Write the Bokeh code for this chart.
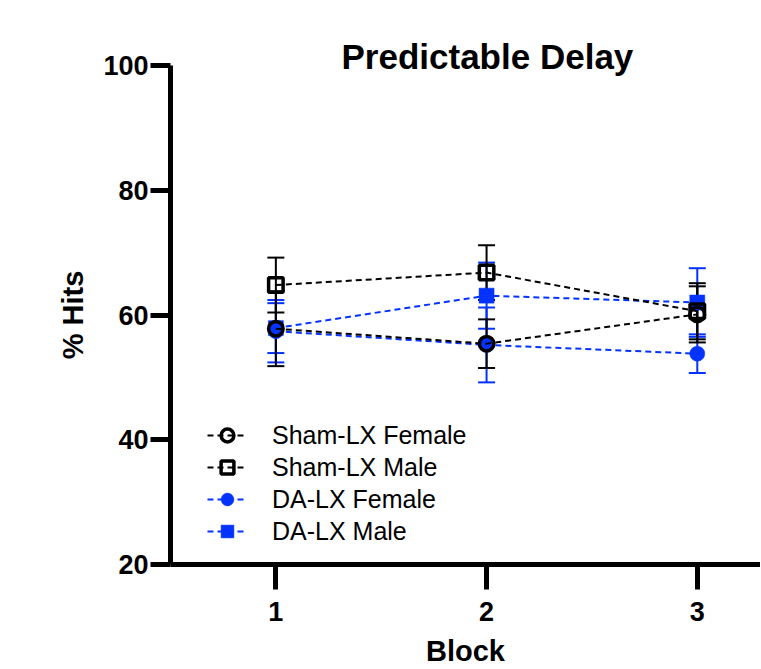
from bokeh.plotting import figure
from bokeh.models import (ColumnDataSource, Whisker, TeeHead, Legend, LegendItem,
                          Title, FixedTicker, Range1d)
from bokeh.embed import file_html
from bokeh.resources import INLINE

# ---- data ----
blocks = [1, 2, 3]
series_names = ["Sham-LX Female", "Sham-LX Male", "DA-LX Female", "DA-LX Male"]
sham_female = [57.8, 55.4, 60.1]
sham_female_sem = [6.0, 3.9, 4.5]
sham_male = [64.8, 66.8, 60.6]
sham_male_sem = [4.4, 4.4, 4.5]
da_female = [57.4, 55.2, 53.8]
da_female_sem = [5.0, 6.0, 3.1]
da_male = [57.9, 63.1, 62.0]
da_male_sem = [4.0, 5.3, 5.5]
y_ticks = [20, 40, 60, 80, 100]
x_ticks = [1, 2, 3]

BLUE = "#0433FF"
FONT = "Liberation Sans"

p = figure(width=760, height=669, output_backend="svg", toolbar_location=None,
           x_range=Range1d(0.5, 3.3), y_range=Range1d(20, 100),
           min_border_left=170, min_border_right=0, min_border_top=65,
           min_border_bottom=105)
p.outline_line_color = None
p.xgrid.visible = False
p.ygrid.visible = False
p.background_fill_color = "white"

def make_src(mean, sem):
    return ColumnDataSource(dict(x=blocks, y=mean,
                                 upper=[m + s for m, s in zip(mean, sem)],
                                 lower=[m - s for m, s in zip(mean, sem)]))

specs = [
    (da_female, da_female_sem, BLUE, "circle", True),
    (da_male, da_male_sem, BLUE, "square", True),
    (sham_male, sham_male_sem, "black", "square", False),
    (sham_female, sham_female_sem, "black", "circle", False),
]
renderers = {}
for (mean, sem, col, mk, filled), key in zip(specs, ["daf", "dam", "shm", "shf"]):
    src = make_src(mean, sem)
    w = Whisker(source=src, base="x", upper="upper", lower="lower",
                line_color=col, line_width=2,
                upper_head=TeeHead(size=17, line_color=col, line_width=2),
                lower_head=TeeHead(size=17, line_color=col, line_width=2))
    p.add_layout(w)
    ln = p.line("x", "y", source=src, line_color=col, line_width=2, line_dash="6 4")
    if filled:
        sc = p.scatter("x", "y", source=src, marker=mk, size=15,
                       fill_color=col, line_color=col, line_width=0.5)
    else:
        sc = p.scatter("x", "y", source=src, marker=mk, size=14.5,
                       fill_color=None, line_color=col, line_width=3.5)
    renderers[key] = [ln, sc]

legend = Legend(items=[
    LegendItem(label=series_names[0], renderers=renderers["shf"]),
    LegendItem(label=series_names[1], renderers=renderers["shm"]),
    LegendItem(label=series_names[2], renderers=renderers["daf"]),
    LegendItem(label=series_names[3], renderers=renderers["dam"]),
], location=(37, 17), padding=0, margin=0, spacing=0,
   label_height=32, glyph_height=32, glyph_width=40, label_standoff=25,
   label_text_font=FONT, label_text_font_size="25px", label_text_color="black",
   border_line_color=None, background_fill_alpha=0)
p.add_layout(legend)

# axes
for ax in (p.xaxis[0], p.yaxis[0]):
    ax.axis_line_width = 5
    ax.axis_line_color = "black"
    ax.major_tick_line_width = 5
    ax.major_tick_line_color = "black"
    ax.major_tick_in = 0
    ax.minor_tick_line_color = None
    ax.major_label_text_font = FONT
    ax.major_label_text_font_style = "bold"
    ax.major_label_text_font_size = "27px"
    ax.major_label_text_color = "black"
    ax.axis_label_text_font = FONT
    ax.axis_label_text_font_style = "bold"
    ax.axis_label_text_font_size = "29px"
    ax.axis_label_text_color = "black"

p.yaxis[0].ticker = FixedTicker(ticks=y_ticks)
p.yaxis[0].major_tick_out = 20
p.yaxis[0].major_label_standoff = 2
p.yaxis[0].axis_label = "% Hits"
p.yaxis[0].axis_label_standoff = 11

p.xaxis[0].ticker = FixedTicker(ticks=x_ticks)
p.xaxis[0].major_tick_out = 25
p.xaxis[0].major_label_standoff = 12
p.xaxis[0].axis_label = "Block"
p.xaxis[0].axis_label_standoff = 11

p.title = Title(text="Predictable Delay", align="left", offset=171,
                standoff=-20, text_font=FONT, text_font_style="bold",
                text_font_size="35px", text_color="black")

open("out.html", "w").write(file_html(p, INLINE))
